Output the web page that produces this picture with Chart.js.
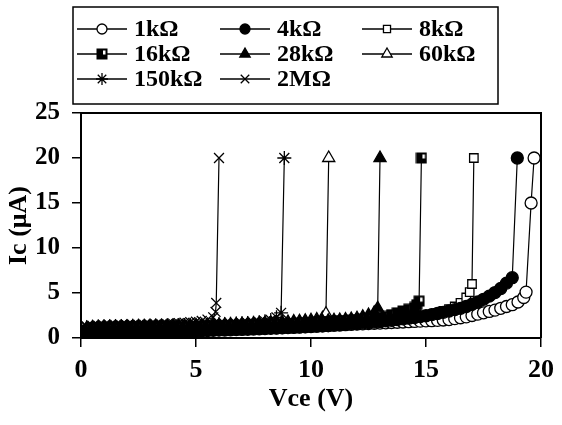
<!DOCTYPE html>
<html>
<head>
<meta charset="utf-8">
<script src="https://cdn.jsdelivr.net/npm/chart.js@4.4.1/dist/chart.umd.min.js"></script>
<style>
  html, body { margin: 0; padding: 0; background: #fff; }
  #wrap { width: 562px; height: 425px; }
</style>
</head>
<body>
<div id="wrap"><canvas id="chart" width="562" height="425"></canvas></div>
<script>
// Vce sweep (V), shared by every curve below the breakdown
const vce = [0,0.25,0.5,0.75,1,1.25,1.5,1.75,2,2.25,2.5,2.75,3,3.25,3.5,3.75,4,4.25,4.5,4.75,
  5,5.25,5.5,5.75,6,6.25,6.5,6.75,7,7.25,7.5,7.75,8,8.25,8.5,8.75,9,9.25,9.5,9.75,
  10,10.25,10.5,10.75,11,11.25,11.5,11.75,12,12.25,12.5,12.75,13,13.25,13.5,13.75,14,14.25,14.5,14.75,
  15,15.25,15.5,15.75,16,16.25,16.5,16.75,17,17.25,17.5,17.75,18,18.25,18.5,18.75,19,19.25];

const seriesNames = ['1kΩ', '4kΩ', '8kΩ', '16kΩ', '28kΩ', '60kΩ', '150kΩ', '2MΩ'];

// Ic (uA) on the vce grid, then the breakdown points of each curve
const ic1k = [0.0,0.7,0.72,0.73,0.74,0.75,0.76,0.76,0.77,0.78,0.78,0.79,0.8,0.8,0.81,0.82,0.82,0.83,0.84,0.85,0.86,
  0.88,0.9,0.92,0.94,0.96,0.98,1.0,1.02,1.04,1.06,1.08,1.1,1.12,1.14,1.16,1.18,1.2,1.23,1.26,1.3,
  1.33,1.36,1.39,1.42,1.45,1.48,1.51,1.54,1.57,1.6,1.63,1.66,1.69,1.72,1.75,1.78,1.81,1.84,1.87,1.9,
  1.92,1.96,2.0,2.05,2.15,2.25,2.35,2.5,2.65,2.8,2.95,3.1,3.3,3.5,3.7,4.0,4.5];
const tail1kV = [19.35, 19.57, 19.7];
const tail1kI = [5.1, 15, 20];

const ic4k = [0.0,0.55,0.6,0.62,0.63,0.64,0.65,0.66,0.67,0.68,0.69,0.7,0.71,0.72,0.73,0.74,0.75,0.76,0.77,0.78,0.79,
  0.81,0.83,0.85,0.87,0.89,0.91,0.93,0.95,0.97,0.99,1.01,1.04,1.07,1.1,1.13,1.16,1.19,1.22,1.25,1.28,
  1.31,1.35,1.39,1.43,1.47,1.51,1.56,1.61,1.66,1.71,1.77,1.83,1.9,1.97,2.04,2.12,2.2,2.28,2.37,2.47,
  2.6,2.72,2.85,3.0,3.15,3.3,3.5,3.75,4.0,4.3,4.65,5.05,5.5,6.1,6.7];
const tail4kV = [18.97];
const tail4kI = [20];

const ic8k = [0.0,0.8,0.85,0.88,0.9,0.91,0.92,0.93,0.94,0.95,0.96,0.97,0.98,0.99,1.0,1.01,1.02,1.03,1.04,1.05,1.06,
  1.08,1.1,1.12,1.14,1.16,1.18,1.2,1.22,1.24,1.26,1.28,1.31,1.34,1.37,1.4,1.43,1.46,1.49,1.52,1.55,
  1.58,1.61,1.64,1.67,1.7,1.74,1.78,1.82,1.86,1.9,1.94,1.98,2.02,2.06,2.1,2.15,2.2,2.26,2.32,2.4,
  2.6,2.8,3.0,3.2,3.5,3.9,4.5];
const tail8kV = [16.9, 17.0, 17.08];
const tail8kI = [5.1, 6.0, 20];

const ic16k = [0.0,0.9,0.95,0.98,1.0,1.01,1.02,1.03,1.04,1.05,1.06,1.07,1.08,1.09,1.1,1.11,1.12,1.13,1.14,1.15,1.16,
  1.18,1.2,1.22,1.24,1.26,1.28,1.3,1.33,1.36,1.39,1.42,1.45,1.48,1.51,1.54,1.57,1.6,1.63,1.66,1.7,
  1.74,1.78,1.82,1.86,1.9,1.94,1.98,2.02,2.07,2.12,2.18,2.26,2.4,2.6,2.8,3.0,3.2,3.4];
const tail16kV = [14.6, 14.7, 14.8];
const tail16kI = [3.7, 4.1, 20];

const ic28k = [0.0,1.0,1.05,1.08,1.1,1.11,1.12,1.13,1.14,1.15,1.16,1.17,1.18,1.19,1.2,1.21,1.22,1.23,1.24,1.25,1.26,
  1.28,1.3,1.32,1.34,1.36,1.38,1.4,1.43,1.46,1.49,1.52,1.55,1.58,1.61,1.64,1.67,1.7,1.73,1.76,1.8,
  1.84,1.88,1.92,1.96,2.0,2.05,2.1,2.2,2.35,2.55,2.8];
const tail28kV = [12.9, 13.0];
const tail28kI = [3.3, 20];

const ic60k = [0.0,1.1,1.15,1.18,1.2,1.21,1.22,1.23,1.24,1.25,1.26,1.27,1.28,1.29,1.3,1.31,1.32,1.33,1.34,1.35,1.36,
  1.38,1.4,1.42,1.44,1.46,1.48,1.5,1.53,1.56,1.59,1.62,1.65,1.68,1.71,1.74,1.78,1.82,1.86,1.9,1.96,2.05,2.2];
const tail60kV = [10.65, 10.77];
const tail60kI = [2.7, 20];

const ic150k = [0.0,1.2,1.25,1.28,1.3,1.31,1.32,1.33,1.34,1.35,1.36,1.37,1.38,1.39,1.4,1.41,1.42,1.43,1.44,1.45,1.46,
  1.48,1.5,1.52,1.54,1.56,1.58,1.6,1.63,1.66,1.7,1.75,1.85,2.0,2.3];
const tail150kV = [8.7, 8.84];
const tail150kI = [2.8, 20];

const ic2M = [0.0,1.3,1.35,1.38,1.4,1.41,1.42,1.43,1.44,1.45,1.46,1.47,1.48,1.5,1.52,1.55,1.6,1.65,1.7,1.76,1.82,1.9,2.05,2.3];
const tail2MV = [5.85, 5.88, 6.0];
const tail2MI = [2.9, 3.9, 20];

const xTicks = [0, 5, 10, 15, 20];
const yTicks = [0, 5, 10, 15, 20, 25];

function curve(ic, tailV, tailI) {
  const pts = ic.map((y, i) => ({ x: vce[i], y: y }));
  tailV.forEach((x, i) => pts.push({ x: x, y: tailI[i] }));
  return pts;
}

const curves = [
  curve(ic1k, tail1kV, tail1kI),
  curve(ic4k, tail4kV, tail4kI),
  curve(ic8k, tail8kV, tail8kI),
  curve(ic16k, tail16kV, tail16kI),
  curve(ic28k, tail28kV, tail28kI),
  curve(ic60k, tail60kV, tail60kI),
  curve(ic150k, tail150kV, tail150kI),
  curve(ic2M, tail2MV, tail2MI)
];

// half filled square used for 16kΩ
function halfSquare() {
  const c = document.createElement('canvas');
  c.width = 12; c.height = 12;
  const g = c.getContext('2d');
  g.fillStyle = '#000';
  g.fillRect(0.5, 0.5, 11, 11);
  g.fillStyle = '#fff';
  g.fillRect(7, 2.5, 2.5, 4);
  return c;
}

// marker look per series; open markers are drawn underneath (higher order)
const markers = [
  { style: 'circle', fill: '#fff', r: 6, order: 2 },
  { style: 'circle', fill: '#000', r: 6, order: 0 },
  { style: 'rect', fill: '#fff', r: 6, order: 2 },
  { style: halfSquare(), fill: '#000', r: 6, order: 0 },
  { style: 'triangle', fill: '#000', r: 7, order: 0 },
  { style: 'triangle', fill: '#fff', r: 7, order: 1 },
  { style: 'star', fill: '#000', r: 7, order: 0 },
  { style: 'crossRot', fill: '#000', r: 7, order: 0 }
];

const FONT = '"Liberation Serif", "Times New Roman", serif';

// frame + line/marker legend drawn on the canvas
const framePlugin = {
  id: 'frame',
  afterDraw(chart) {
    const ctx = chart.ctx;
    const a = chart.chartArea;
    ctx.save();
    ctx.strokeStyle = '#000';
    ctx.lineWidth = 2;
    ctx.beginPath();
    ctx.moveTo(a.left, a.top);
    ctx.lineTo(a.right, a.top);
    ctx.lineTo(a.right, a.bottom);
    ctx.stroke();

    // legend box
    ctx.lineWidth = 1.5;
    ctx.strokeRect(73, 7, 425, 97);
    const cols = [77, 220, 362];
    const rows = [29, 54, 79];
    ctx.font = 'bold 24px ' + FONT;
    ctx.textBaseline = 'middle';
    seriesNames.forEach((name, i) => {
      const x = cols[i % 3];
      const y = rows[Math.floor(i / 3)];
      ctx.strokeStyle = '#000';
      ctx.lineWidth = 1.5;
      ctx.beginPath();
      ctx.moveTo(x, y);
      ctx.lineTo(x + 50, y);
      ctx.stroke();
      const m = markers[i];
      ctx.fillStyle = m.fill;
      ctx.lineWidth = 1.3;
      Chart.helpers.drawPoint(ctx, { pointStyle: m.style, radius: m.r - 1, rotation: 0, borderWidth: 1.3 }, x + 25, y);
      ctx.fillStyle = '#000';
      ctx.fillText(name, x + 57, y + 1);
    });
    ctx.restore();
  }
};

const datasets = curves.map((pts, i) => ({
  label: seriesNames[i],
  data: pts,
  order: markers[i].order,
  showLine: true,
  borderColor: '#000',
  borderWidth: 1.2,
  pointStyle: markers[i].style,
  pointRadius: markers[i].r,
  pointBackgroundColor: markers[i].fill,
  pointBorderColor: '#000',
  pointBorderWidth: 1.3,
  pointHoverRadius: markers[i].r
}));

new Chart(document.getElementById('chart'), {
  type: 'scatter',
  data: { datasets },
  options: {
    responsive: false,
    animation: false,
    devicePixelRatio: 1,
    layout: { padding: { top: 113, right: 15, left: 0, bottom: 0 } },
    plugins: { legend: { display: false }, tooltip: { enabled: false } },
    scales: {
      x: {
        type: 'linear',
        min: 0, max: 20,
        afterBuildTicks(scale) { scale.ticks = xTicks.map(v => ({ value: v })); },
        afterFit(scale) { scale.height = 87; },
        grid: { display: true, drawOnChartArea: false, drawTicks: true, tickLength: 9, color: '#000', lineWidth: 1.5 },
        border: { display: true, color: '#000', width: 2 },
        ticks: { color: '#000', padding: 8, font: { family: FONT, size: 26, weight: 'bold' } },
        title: { display: true, text: 'Vce (V)', color: '#000', padding: 0,
          font: { family: FONT, size: 26, weight: 'bold', lineHeight: 2 } }
      },
      y: {
        type: 'linear',
        min: 0, max: 25,
        afterBuildTicks(scale) { scale.ticks = yTicks.map(v => ({ value: v })); },
        afterFit(scale) { scale.width = 81; },
        grid: { display: true, drawOnChartArea: false, drawTicks: true, tickLength: 9, color: '#000', lineWidth: 1.5 },
        border: { display: true, color: '#000', width: 2 },
        ticks: { color: '#000', padding: 12, font: { family: FONT, size: 25, weight: 'bold' } },
        title: { display: true, text: 'Ic (μA)', color: '#000', padding: 0,
          font: { family: FONT, size: 26, weight: 'bold', lineHeight: 1.5 } }
      }
    }
  },
  plugins: [framePlugin]
});
</script>
</body>
</html>
